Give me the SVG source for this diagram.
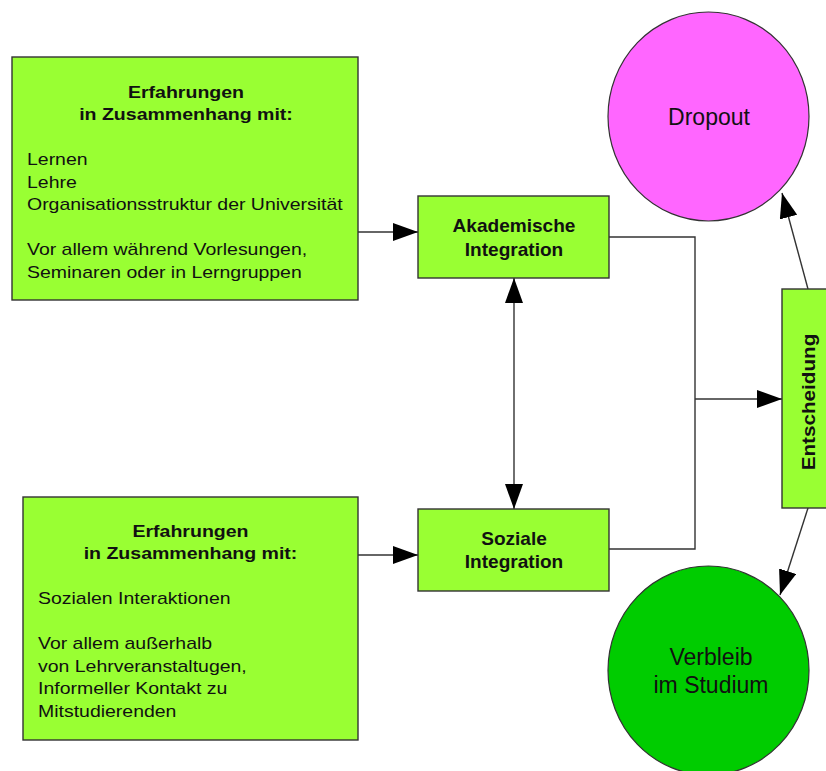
<svg xmlns="http://www.w3.org/2000/svg" width="826" height="771" viewBox="0 0 826 771">
  <style>
    .box { fill: #99ff33; stroke: #333333; stroke-width: 1.4; }
    .t { font-family: "Liberation Sans", Arial, sans-serif; font-size: 17px; fill: #111111; }
    .b { font-weight: bold; }
    .big { font-family: "Liberation Sans", Arial, sans-serif; font-size: 23px; fill: #111111; text-anchor: middle; }
    .mid { text-anchor: middle; }
    .line { fill: none; stroke: #333333; stroke-width: 1.4; }
  </style>
  <defs>
    <marker id="arrow" markerUnits="userSpaceOnUse" markerWidth="26" markerHeight="18" refX="25" refY="9" orient="auto">
      <path d="M0,0 L25,9 L0,18 z" fill="#000000"/>
    </marker>
    <marker id="arrowStart" markerUnits="userSpaceOnUse" markerWidth="26" markerHeight="18" refX="0" refY="9" orient="auto">
      <path d="M25,0 L0,9 L25,18 z" fill="#000000"/>
    </marker>
  </defs>
  <rect width="826" height="771" fill="#ffffff"/>

  <!-- connectors -->
  <g id="connectors">
    <line class="line" x1="358" y1="232" x2="418" y2="232" marker-end="url(#arrow)"/>
    <line class="line" x1="358" y1="555" x2="418" y2="555" marker-end="url(#arrow)"/>
    <line class="line" x1="514" y1="278" x2="514" y2="509" marker-start="url(#arrowStart)" marker-end="url(#arrow)"/>
    <polyline class="line" points="609,237 695,237 695,549 609,549"/>
    <line class="line" x1="695" y1="399" x2="782" y2="399" marker-end="url(#arrow)"/>
    <line class="line" x1="808" y1="289" x2="782" y2="193" marker-end="url(#arrow)"/>
    <line class="line" x1="808" y1="508" x2="780" y2="595" marker-end="url(#arrow)"/>
  </g>

  <!-- academic experiences -->
  <g id="erfahrungen-akademisch">
    <rect class="box" x="12" y="57" width="346" height="243"/>
    <g transform="translate(186,0) scale(1.15,1)">
      <text class="t b mid" x="0" y="98">Erfahrungen</text>
      <text class="t b mid" x="0" y="120.5">in Zusammenhang mit:</text>
    </g>
    <g transform="translate(27,0) scale(1.145,1)">
      <text class="t" x="0" y="165.5">Lernen</text>
      <text class="t" x="0" y="188">Lehre</text>
      <text class="t" x="0" y="210.5">Organisationsstruktur der Universität</text>
      <text class="t" x="0" y="255.5">Vor allem während Vorlesungen,</text>
      <text class="t" x="0" y="278">Seminaren oder in Lerngruppen</text>
    </g>
  </g>

  <!-- social experiences -->
  <g id="erfahrungen-sozial">
    <rect class="box" x="23" y="497" width="335" height="243"/>
    <g transform="translate(190.5,0) scale(1.15,1)">
      <text class="t b mid" x="0" y="537">Erfahrungen</text>
      <text class="t b mid" x="0" y="559.5">in Zusammenhang mit:</text>
    </g>
    <g transform="translate(38,0) scale(1.145,1)">
      <text class="t" x="0" y="604.5">Sozialen Interaktionen</text>
      <text class="t" x="0" y="649.5">Vor allem außerhalb</text>
      <text class="t" x="0" y="672">von Lehrveranstaltugen,</text>
      <text class="t" x="0" y="694.5">Informeller Kontakt zu</text>
      <text class="t" x="0" y="717">Mitstudierenden</text>
    </g>
  </g>

  <!-- academic integration -->
  <g id="akademische-integration">
    <rect class="box" x="418" y="196" width="191" height="82"/>
    <g transform="translate(514,0) scale(1.06,1)">
      <text class="t b mid" x="0" y="232" style="font-size:18px">Akademische</text>
      <text class="t b mid" x="0" y="256" style="font-size:18px">Integration</text>
    </g>
  </g>

  <!-- social integration -->
  <g id="soziale-integration">
    <rect class="box" x="418" y="509" width="191" height="82"/>
    <g transform="translate(514,0) scale(1.06,1)">
      <text class="t b mid" x="0" y="545" style="font-size:18px">Soziale</text>
      <text class="t b mid" x="0" y="568" style="font-size:18px">Integration</text>
    </g>
  </g>

  <!-- decision -->
  <g id="entscheidung">
    <rect class="box" x="782" y="289" width="60" height="219"/>
    <text class="t b mid" transform="translate(815,402) rotate(-90) scale(1.15,1)" x="0" y="0" style="font-size:18px">Entscheidung</text>
  </g>

  <!-- dropout -->
  <g id="dropout">
    <ellipse cx="708.5" cy="116.5" rx="100.5" ry="104.5" fill="#ff66ff" stroke="#333333" stroke-width="1.2"/>
    <text class="big" x="709" y="125">Dropout</text>
  </g>

  <!-- remaining in studies -->
  <g id="verbleib">
    <ellipse cx="708.5" cy="670.5" rx="100.5" ry="104.5" fill="#00cc00" stroke="#333333" stroke-width="1.2"/>
    <text class="big" x="711" y="665">Verbleib</text>
    <text class="big" x="711" y="693">im Studium</text>
  </g>
</svg>
